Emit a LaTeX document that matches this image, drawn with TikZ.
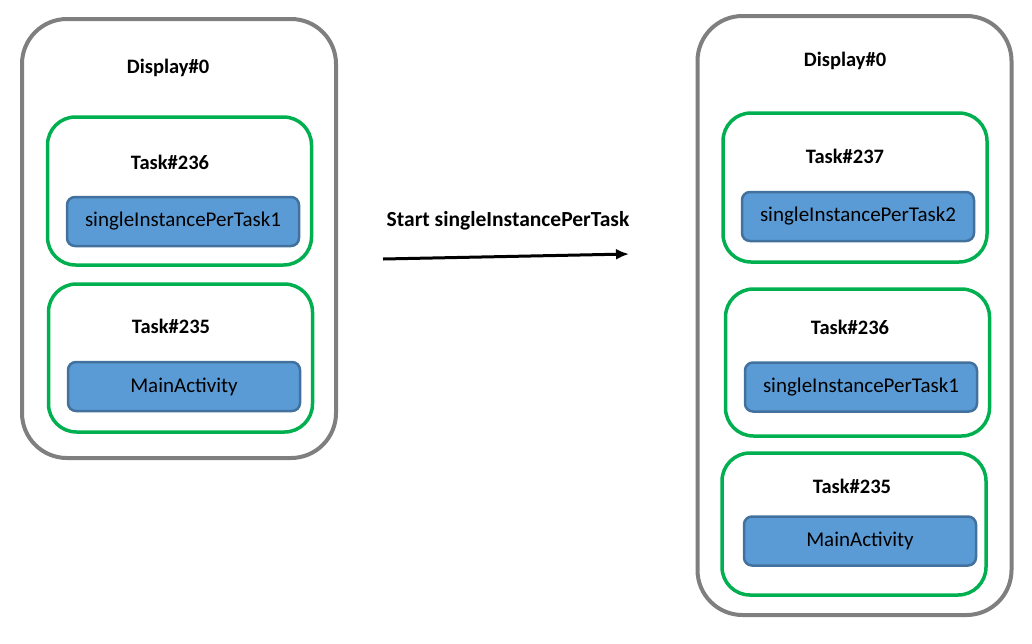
\documentclass[tikz,border=0pt]{standalone}
\usepackage{fontspec}
\setmainfont{Carlito}
\usetikzlibrary{arrows.meta}
\definecolor{dispgray}{HTML}{7F7F7F}
\definecolor{taskgreen}{HTML}{00B050}
\definecolor{actblue}{HTML}{5B9BD5}
\definecolor{actborder}{HTML}{41719C}
\tikzset{
  display/.style={draw=dispgray, line width=4pt, rounded corners=45pt, minimum width=314pt, inner sep=0pt},
  taskbox/.style={draw=taskgreen, line width=3.5pt, rounded corners=28pt, minimum width=264pt, minimum height=148pt, inner sep=0pt},
  actbox/.style={draw=actborder, fill=actblue, line width=2.5pt, rounded corners=8pt, minimum width=232pt, minimum height=49pt, inner sep=0pt, font=\fontsize{21}{25}\selectfont},
  lbl/.style={font=\bfseries\fontsize{20.5}{24}\selectfont, inner sep=0pt}
}
\begin{document}
\begin{tikzpicture}[x=1pt,y=-1pt]
  \useasboundingbox (0,0) rectangle (1032,643);

  % Prima
  \node[display, minimum height=439pt] (D1) at (179,238.5) {};
  \node[lbl] (D1lbl) at (168,68) {Display\#0};
  \node[taskbox] (T236a) at (179.5,191) {};
  \node[lbl] (T236albl) at (170,162) {Task\#236};
  \node[actbox] (S1a) at (183,221.5) {singleInstancePerTask1};
  \node[taskbox] (T235a) at (180.5,358) {};
  \node[lbl] (T235albl) at (171,326) {Task\#235};
  \node[actbox] (MAa) at (184,386.5) {MainActivity};

  % Dopo
  \node[display, minimum height=599pt] (D2) at (854.5,315.5) {};
  \node[lbl] (D2lbl) at (845,61) {Display\#0};
  \node[taskbox, minimum height=149pt] (T237) at (855,187.5) {};
  \node[lbl] (T237lbl) at (845,156) {Task\#237};
  \node[actbox] (S2) at (858,216.5) {singleInstancePerTask2};
  \node[taskbox, minimum height=147pt] (T236b) at (857.5,362.5) {};
  \node[lbl] (T236blbl) at (850,327) {Task\#236};
  \node[actbox] (S1b) at (861,387) {singleInstancePerTask1};
  \node[taskbox, minimum height=142pt] (T235b) at (854,524) {};
  \node[lbl] (T235blbl) at (852,486) {Task\#235};
  \node[actbox] (MAb) at (860,541) {MainActivity};

  % Freccia
  \coordinate (from) at (383,259);
  \coordinate (to) at (629,254);
  \node[lbl, font=\bfseries\fontsize{21.5}{25}\selectfont] (start) at (508,221) {Start singleInstancePerTask};
  \draw[line width=3pt, -{Latex[length=13pt,width=11pt]}] (from) -- (to);
\end{tikzpicture}
\end{document}
